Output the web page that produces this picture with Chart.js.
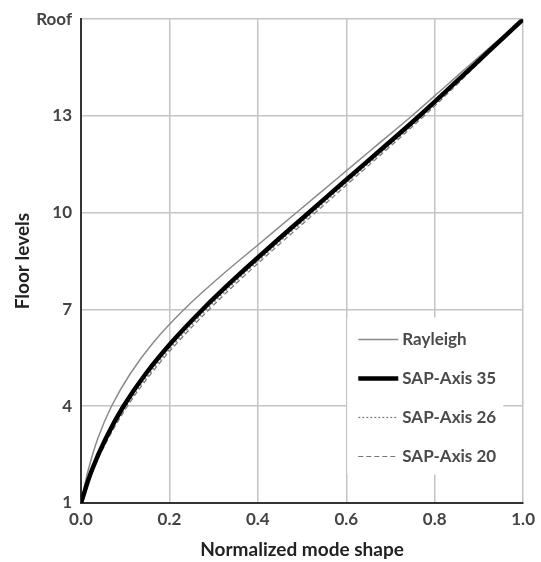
<!DOCTYPE html>
<html>
<head>
<meta charset="utf-8">
<script src="https://cdn.jsdelivr.net/npm/chart.js@4"></script>
<style>
  html, body { margin: 0; padding: 0; background: #fff; }
  #wrap { width: 541px; height: 562px; }
</style>
</head>
<body>
<div id="wrap"><canvas id="modeChart" width="541" height="562"></canvas></div>
<script>
// floor numbers (16 = roof) and normalized mode shape per analysis
const floors = [1, 2, 3, 4, 5, 6, 7, 8, 9, 10, 11, 12, 13, 14, 15, 16];
const rayleigh = [0, 0.016, 0.038, 0.069, 0.111, 0.165, 0.233, 0.313, 0.400, 0.487, 0.574, 0.661, 0.748, 0.831, 0.914, 1.0];
const sapAxis35 = [0, 0.024, 0.056, 0.096, 0.146, 0.206, 0.275, 0.351, 0.432, 0.515, 0.598, 0.682, 0.765, 0.844, 0.922, 1.0];
const sapAxis26 = [0, 0.026, 0.060, 0.102, 0.154, 0.215, 0.284, 0.360, 0.441, 0.524, 0.606, 0.690, 0.772, 0.849, 0.925, 1.0];
const sapAxis20 = [0, 0.027, 0.062, 0.105, 0.158, 0.220, 0.290, 0.366, 0.447, 0.530, 0.612, 0.695, 0.776, 0.852, 0.926, 1.0];
const yTicks = [1, 4, 7, 10, 13, 16];
const roofFloor = 16;

function toPoints(values) {
    return values.map((v, i) => ({ x: v, y: floors[i] }));
}

const FONT = 'Lato, "Open Sans", sans-serif';

// legend drawn inside the plot, over the lower right cells
const boxLegend = {
    id: 'boxLegend',
    afterDatasetsDraw(chart) {
        const ctx = chart.ctx;
        const left = chart.scales.x.getPixelForValue(0.6) + 1;
        const top = chart.scales.y.getPixelForValue(7) + 8;
        ctx.save();
        ctx.fillStyle = '#fff';
        ctx.fillRect(left, top, 156, 157);
        ctx.font = 'bold 17px ' + FONT;
        ctx.textBaseline = 'middle';
        chart.data.datasets.forEach((ds, i) => {
            const y = top + 22 + i * 39;
            ctx.strokeStyle = ds.borderColor;
            ctx.lineWidth = ds.borderWidth;
            ctx.setLineDash(ds.borderDash || []);
            ctx.beginPath();
            ctx.moveTo(left + 11, y);
            ctx.lineTo(left + 51, y);
            ctx.stroke();
            ctx.setLineDash([]);
            ctx.fillStyle = '#4a4a4a';
            ctx.fillText(ds.label, left + 55, y);
        });
        ctx.restore();
    }
};

new Chart(document.getElementById('modeChart'), {
    type: 'line',
    data: {
        datasets: [
            { label: 'Rayleigh', data: toPoints(rayleigh), borderColor: '#8a8a8a', borderWidth: 1.5, order: 1 },
            { label: 'SAP-Axis 35', data: toPoints(sapAxis35), borderColor: '#000', borderWidth: 4.5, order: 0 },
            { label: 'SAP-Axis 26', data: toPoints(sapAxis26), borderColor: '#777', borderWidth: 1.2, borderDash: [2, 2], order: 2 },
            { label: 'SAP-Axis 20', data: toPoints(sapAxis20), borderColor: '#777', borderWidth: 1.2, borderDash: [5, 3], order: 3 }
        ]
    },
    options: {
        responsive: false,
        animation: false,
        layout: { padding: { left: 0, right: 15, top: 16, bottom: 0 } },
        elements: {
            point: { radius: 0 },
            line: { tension: 0.4, fill: false }
        },
        plugins: {
            legend: { display: false },
            tooltip: { enabled: false }
        },
        scales: {
            x: {
                type: 'linear',
                position: 'bottom',
                min: 0,
                max: 1,
                afterFit(scale) { scale.height = 59; },
                ticks: {
                    stepSize: 0.2,
                    padding: 6,
                    color: '#444',
                    font: { family: FONT, size: 17, weight: 'bold' },
                    callback: v => v.toFixed(1)
                },
                grid: { color: '#c4c4c4', lineWidth: 1.5, drawTicks: false },
                border: { color: '#333', width: 2 },
                title: {
                    display: true,
                    text: 'Normalized mode shape',
                    color: '#222',
                    font: { family: FONT, size: 19, weight: 'bold' },
                    padding: { top: 0, bottom: 1 }
                }
            },
            y: {
                type: 'linear',
                position: 'left',
                min: 1,
                max: roofFloor,
                afterFit(scale) { scale.width = 81; },
                afterBuildTicks(scale) { scale.ticks = yTicks.map(v => ({ value: v })); },
                ticks: {
                    padding: 9,
                    color: '#444',
                    font: { family: FONT, size: 17, weight: 'bold' },
                    callback: v => v === roofFloor ? 'Roof' : v
                },
                grid: { color: '#c4c4c4', lineWidth: 1.5, drawTicks: false },
                border: { color: '#333', width: 2 },
                title: {
                    display: true,
                    text: 'Floor levels',
                    color: '#222',
                    font: { family: FONT, size: 19, weight: 'bold' },
                    padding: { top: 11, bottom: 0 }
                }
            }
        }
    },
    plugins: [boxLegend]
});
</script>
</body>
</html>
